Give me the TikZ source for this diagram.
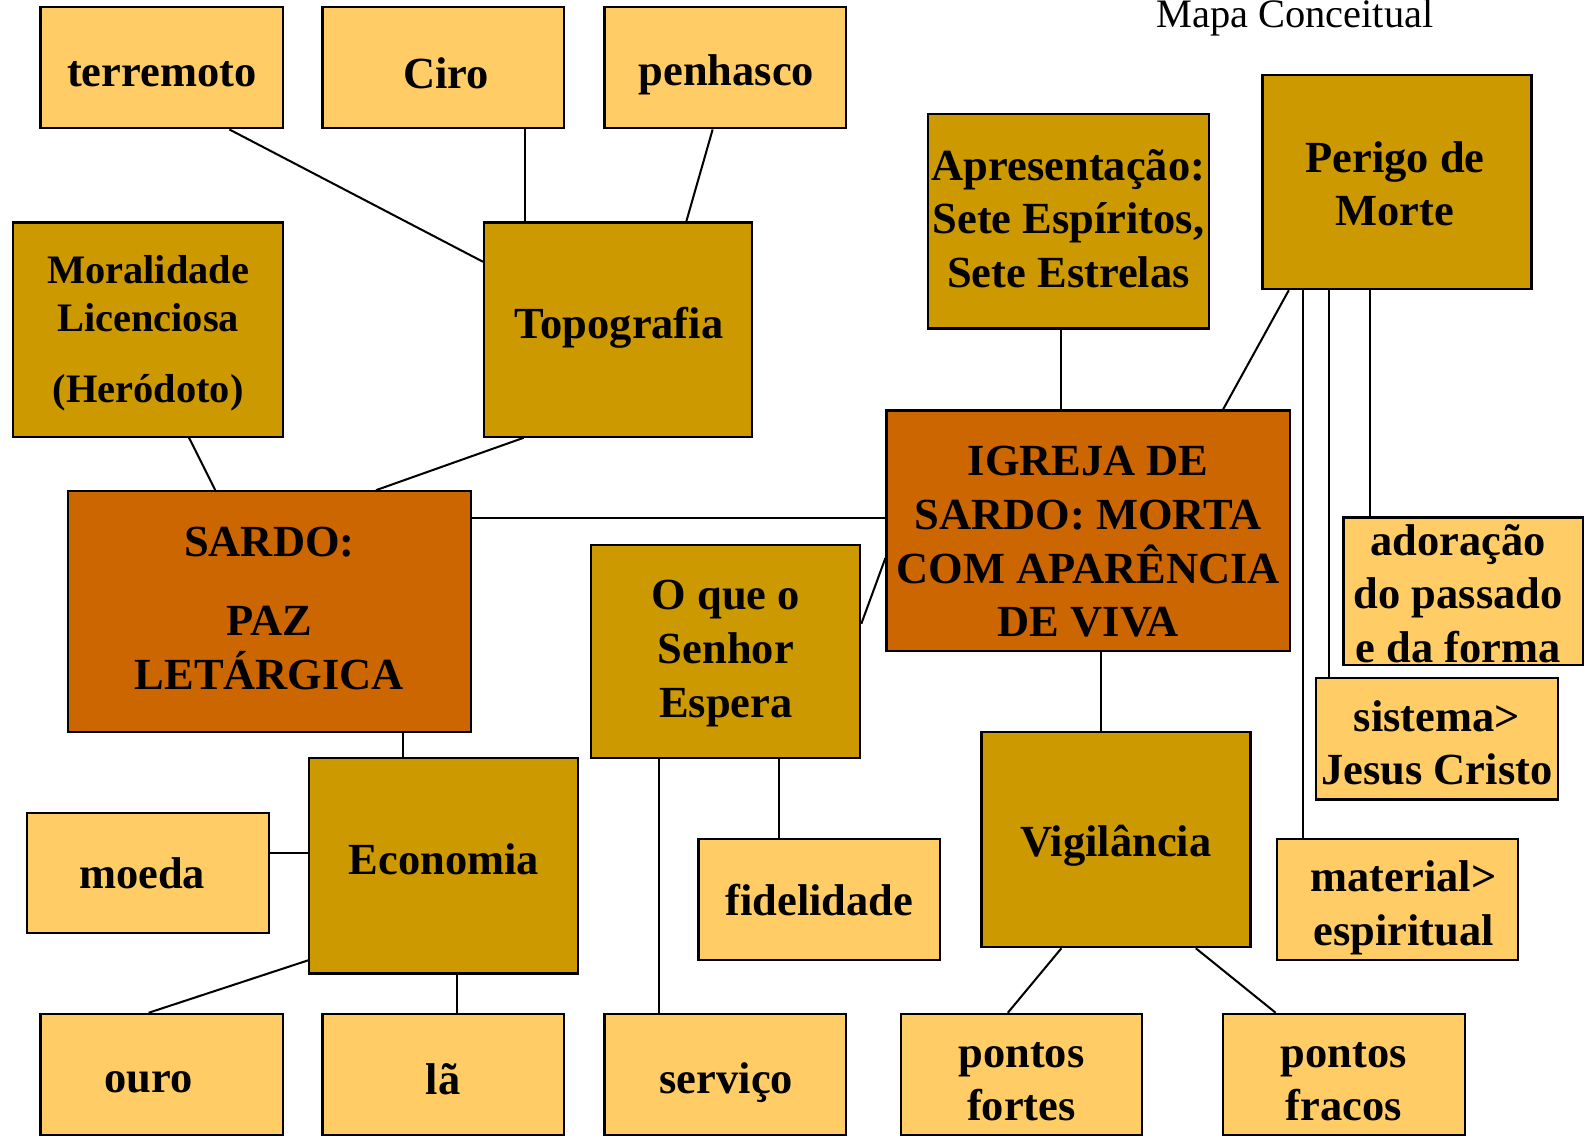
\documentclass[tikz,border=0pt]{standalone}
\usepackage{fontspec}
\setmainfont{Liberation Serif}
\usetikzlibrary{calc}
\begin{document}
\begin{tikzpicture}[x=0.5pt,y=-0.5pt,
  sz/.style 2 args={minimum width=#1*0.5pt,minimum height=#2*0.5pt},
  bx/.style={draw=black,line width=1.1pt,inner sep=0pt},
  light/.style={bx,fill=lightc},
  mid/.style={bx,fill=midc},
  dark/.style={bx,fill=darkc},
  tx/.style={inner sep=0pt,align=center,font=\fontsize{22}{26.5}\selectfont\bfseries},
  conn/.style={draw=black,line width=1pt}]
\definecolor{lightc}{HTML}{FFCC66}
\definecolor{midc}{HTML}{CC9900}
\definecolor{darkc}{HTML}{CC6600}
\useasboundingbox (0,0) rectangle (1568,1131);
\node[anchor=base,font=\fontsize{20}{24}\selectfont] (title) at (1281,27) {Mapa Conceitual};
% boxes
\node[light,sz={240}{120}] (terremoto) at (160,67) {};
\node[light,sz={239}{120}] (ciro) at (438.5,67) {};
\node[light,sz={239}{120}] (penhasco) at (717.5,67) {};
\node[mid,sz={267}{212}] (moral) at (146.5,326) {};
\node[mid,sz={265}{212}] (topo) at (611.5,326) {};
\node[mid,sz={278}{212}] (apres) at (1057,219) {};
\node[mid,sz={266}{212}] (perigo) at (1382,180) {};
\node[dark,sz={399}{238}] (sardo) at (266.5,605) {};
\node[dark,sz={399}{238}] (igreja) at (1076.5,525) {};
\node[mid,sz={266}{211}] (oque) at (718,644.5) {};
\node[light,sz={237}{146}] (adoracao) at (1447.5,585) {};
\node[light,sz={239}{120}] (sistema) at (1421.5,731) {};
\node[mid,sz={266}{213}] (economia) at (439,856.5) {};
\node[light,sz={239}{119}] (moeda) at (146.5,863.5) {};
\node[light,sz={239}{120}] (fidelidade) at (810.5,890) {};
\node[mid,sz={266}{213}] (vigilancia) at (1104,830.5) {};
\node[light,sz={239}{120}] (material) at (1382.5,890) {};
\node[light,sz={240}{120}] (ouro) at (160,1063) {};
\node[light,sz={239}{120}] (la) at (438.5,1063) {};
\node[light,sz={239}{120}] (servico) at (717.5,1063) {};
\node[light,sz={239}{120}] (fortes) at (1010.5,1063) {};
\node[light,sz={239}{120}] (fracos) at (1329.5,1063) {};
% texts
\node[tx] (terremoto-t) at ($(terremoto)+(0,6)$) {terremoto};
\node[tx] (ciro-t) at ($(ciro)+(3,5)$) {Ciro};
\node[tx] (penhasco-t) at ($(penhasco)+(1,7)$) {penhasco};
\node[tx,font=\fontsize{20}{23.5}\selectfont\bfseries] (moral-t) at ($(moral)+(0,4)$) {Moralidade\\Licenciosa\\[12pt](Heródoto)};
\node[tx] (topo-t) at ($(topo)+(1,-2)$) {Topografia};
\node[tx] (apres-t) at ($(apres)+(0,-3)$) {Apresentação:\\Sete Espíritos,\\Sete Estrelas};
\node[tx] (perigo-t) at ($(perigo)+(-2,2)$) {Perigo de\\Morte};
\node[tx] (sardo-t) at ($(sardo)+(0,-3)$) {SARDO:\\[12.5pt]PAZ\\LETÁRGICA};
\node[tx] (igreja-t) at ($(igreja)+(0,11)$) {IGREJA DE\\SARDO: MORTA\\COM APARÊNCIA\\DE VIVA};
\node[tx] (oque-t) at ($(oque)+(0,2)$) {O que o\\Senhor\\Espera};
\node[tx] (adoracao-t) at ($(adoracao)+(-5,2)$) {adoração\\do passado\\e da forma};
\node[tx] (sistema-t) at ($(sistema)+(0,4)$) {sistema>\\Jesus Cristo};
\node[tx] (economia-t) at ($(economia)+(0,-6)$) {Economia};
\node[tx] (moeda-t) at ($(moeda)+(-6,0)$) {moeda};
\node[tx] (fidelidade-t) at ($(fidelidade)+(0,0)$) {fidelidade};
\node[tx] (vigilancia-t) at ($(vigilancia)+(0,6)$) {Vigilância};
\node[tx] (material-t) at ($(material)+(6,8)$) {material>\\espiritual};
\node[tx] (ouro-t) at ($(ouro)+(-13,8)$) {ouro};
\node[tx] (la-t) at ($(la)+(0,5)$) {lã};
\node[tx] (servico-t) at ($(servico)+(1,8)$) {serviço};
\node[tx] (fortes-t) at ($(fortes)+(0,7)$) {pontos\\fortes};
\node[tx] (fracos-t) at ($(fracos)+(0,7)$) {pontos\\fracos};
% connectors
\draw[conn] (terremoto.south -| 227,0) -- (topo.west |- 0,259);
\draw[conn] (ciro.south -| 519,0) -- (topo.north -| 519,0);
\draw[conn] (penhasco.south -| 705,0) -- (topo.north -| 679,0);
\draw[conn] (moral.south -| 187,0) -- (sardo.north -| 213,0);
\draw[conn] (topo.south -| 518,0) -- (sardo.north -| 372,0);
\draw[conn] (sardo.east |- 0,512) -- (igreja.west |- 0,512);
\draw[conn] (apres.south -| 1050,0) -- (igreja.north -| 1050,0);
\draw[conn] (perigo.south -| 1275,0) -- (igreja.north -| 1210,0);
\draw[conn] (perigo.south -| 1355,0) -- (adoracao.north -| 1355,0);
\draw[conn] (perigo.south -| 1315,0) -- (sistema.north -| 1315,0);
\draw[conn] (perigo.south -| 1289,0) -- (material.north -| 1289,0);
\draw[conn] (igreja.west |- 0,552) -- (oque.east |- 0,617);
\draw[conn] (igreja.south -| 1089,0) -- (vigilancia.north -| 1089,0);
\draw[conn] (sardo.south -| 399,0) -- (economia.north -| 399,0);
\draw[conn] (economia.west |- 0,844) -- (moeda.east |- 0,844);
\draw[conn] (economia.west |- 0,950) -- (ouro.north -| 147,0);
\draw[conn] (economia.south -| 452,0) -- (la.north -| 452,0);
\draw[conn] (oque.south -| 652,0) -- (servico.north -| 652,0);
\draw[conn] (oque.south -| 771,0) -- (fidelidade.north -| 771,0);
\draw[conn] (vigilancia.south -| 1050,0) -- (fortes.north -| 997,0);
\draw[conn] (vigilancia.south -| 1183,0) -- (fracos.north -| 1262,0);
\end{tikzpicture}
\end{document}
